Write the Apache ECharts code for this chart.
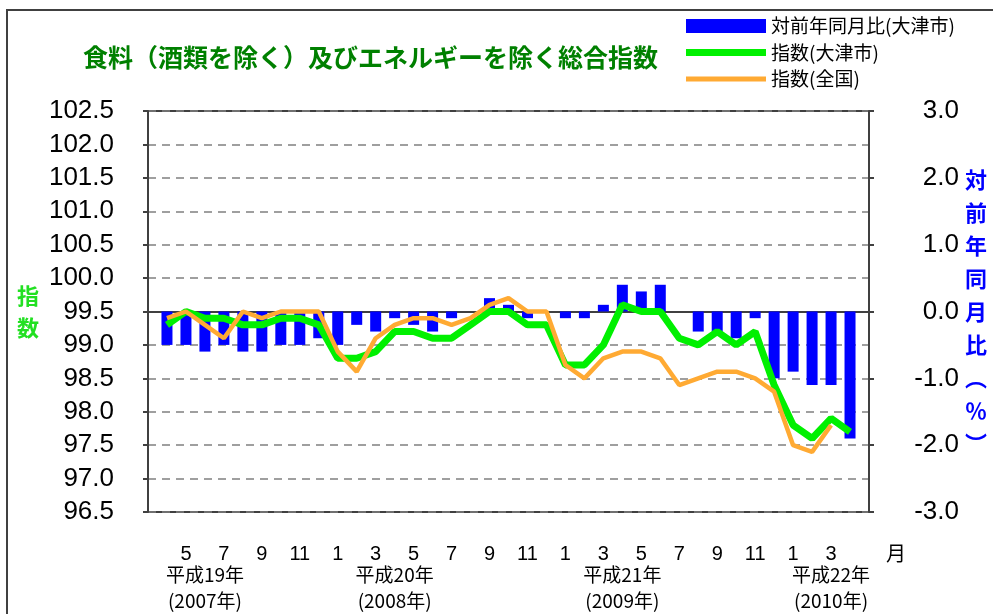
<!DOCTYPE html>
<html>
<head>
<meta charset="utf-8">
<script src="https://cdn.jsdelivr.net/npm/echarts@6/dist/echarts.min.js"></script>
<style>
  html, body { margin: 0; padding: 0; background: #fff; }
  #main { width: 993px; height: 614px; }
</style>
</head>
<body>
<div id="main"></div>
<script>
// 月 (平成19年4月 〜 平成22年4月)
const categories = [
  '2007-04', '2007-05', '2007-06', '2007-07', '2007-08', '2007-09', '2007-10', '2007-11', '2007-12',
  '2008-01', '2008-02', '2008-03', '2008-04', '2008-05', '2008-06', '2008-07', '2008-08', '2008-09', '2008-10', '2008-11', '2008-12',
  '2009-01', '2009-02', '2009-03', '2009-04', '2009-05', '2009-06', '2009-07', '2009-08', '2009-09', '2009-10', '2009-11', '2009-12',
  '2010-01', '2010-02', '2010-03', '2010-04'
]
// 対前年同月比(大津市) %
const yoyOtsu = [
  -0.5, -0.5, -0.6, -0.5, -0.6, -0.6, -0.5, -0.5, -0.4,
  -0.5, -0.2, -0.3, -0.1, -0.2, -0.3, -0.1, 0.0, 0.2, 0.1, -0.1, 0.0,
  -0.1, -0.1, 0.1, 0.4, 0.3, 0.4, 0.0, -0.3, -0.3, -0.4, -0.1, -1.0,
  -0.9, -1.1, -1.1, -1.9
]
// 指数(大津市)
const indexOtsu = [
  99.3, 99.5, 99.4, 99.4, 99.3, 99.3, 99.4, 99.4, 99.3,
  98.8, 98.8, 98.9, 99.2, 99.2, 99.1, 99.1, 99.3, 99.5, 99.5, 99.3, 99.3,
  98.7, 98.7, 99.0, 99.6, 99.5, 99.5, 99.1, 99.0, 99.2, 99.0, 99.2, 98.4,
  97.8, 97.6, 97.9, 97.7
]
// 指数(全国)
const indexAll = [
  99.4, 99.5, 99.3, 99.1, 99.5, 99.4, 99.5, 99.5, 99.5,
  98.9, 98.6, 99.1, 99.3, 99.4, 99.4, 99.3, 99.4, 99.6, 99.7, 99.5, 99.5,
  98.7, 98.5, 98.8, 98.9, 98.9, 98.8, 98.4, 98.5, 98.6, 98.6, 98.5, 98.3,
  97.5, 97.4, 97.8, null
]
// 年の表示位置と文字
const yearLabelMonths = ['2007-06', '2008-04', '2009-04', '2010-03']
const yearLabelTexts = ['平成19年\n(2007年)', '平成20年\n(2008年)', '平成21年\n(2009年)', '平成22年\n(2010年)']

const FONT = "'Liberation Sans', 'Noto Sans CJK JP', sans-serif"
const CJK = "'Noto Sans CJK JP', 'Liberation Sans', sans-serif"

// 両端に空きを1つずつ
const pad = (arr) => [null].concat(arr, [null])
const xData = [''].concat(categories, [''])

// 凡例の線アイコン (高さ14の枠の中に太さhの横線)
const lineIcon = (h) => {
  const y0 = (14 - h) / 2
  const y1 = y0 + h
  return `path://M0,0M0,14M0,${y0}L80,${y0}L80,${y1}L0,${y1}Z`
}

const myChart = echarts.init(document.getElementById('main'))

const option = {
  animation: false,
  textStyle: { fontFamily: FONT },
  title: {
    text: '食料（酒類を除く）及びエネルギーを除く総合指数',
    left: 78,
    top: 40,
    textStyle: { fontFamily: CJK, fontSize: 25, fontWeight: 'bold', color: '#008000' }
  },
  legend: {
    orient: 'vertical',
    left: 681,
    top: 11,
    itemWidth: 80,
    itemHeight: 14,
    itemGap: 6.5,
    symbolKeepAspect: false,
    textStyle: { fontFamily: CJK, fontSize: 19, lineHeight: 20, color: '#000' },
    data: [
      { name: '対前年同月比(大津市)', icon: 'rect' },
      { name: '指数(大津市)', icon: lineIcon(7) },
      { name: '指数(全国)', icon: lineIcon(5) }
    ]
  },
  grid: {
    left: 148,
    right: 124,
    top: 111,
    bottom: 101,
    show: true,
    borderColor: '#404040',
    borderWidth: 2
  },
  xAxis: [
    {
      type: 'category',
      data: xData,
      boundaryGap: false,
      axisLine: { show: true, lineStyle: { color: '#404040', width: 2 } },
      axisTick: { show: false },
      splitLine: { show: false },
      axisLabel: {
        margin: 32,
        fontSize: 20,
        color: '#000',
        interval: (i, v) => v !== '' && Number(v.slice(5)) % 2 === 1,
        formatter: (v) => v === '' ? '' : String(Number(v.slice(5)))
      }
    },
    {
      type: 'category',
      data: xData,
      boundaryGap: false,
      position: 'bottom',
      axisLine: { show: false },
      axisTick: { show: false },
      splitLine: { show: false },
      axisLabel: {
        margin: 50,
        fontSize: 19,
        lineHeight: 26,
        color: '#000',
        fontFamily: CJK,
        interval: (i, v) => yearLabelMonths.indexOf(v) >= 0,
        formatter: (v) => {
          const k = yearLabelMonths.indexOf(v)
          return k >= 0 ? yearLabelTexts[k] : ''
        }
      }
    }
  ],
  yAxis: [
    {
      type: 'value',
      min: 96.5,
      max: 102.5,
      interval: 0.5,
      axisLine: { show: true, lineStyle: { color: '#404040', width: 2 } },
      axisTick: { show: true, length: 5, lineStyle: { color: '#404040', width: 2 } },
      axisLabel: { fontSize: 26, color: '#000', margin: 34, formatter: (v) => v.toFixed(1) },
      splitLine: { show: true, lineStyle: { color: '#808080', width: 1.5, type: [8, 6] } },
      name: '指\n数',
      nameLocation: 'middle',
      nameRotate: 0,
      nameGap: 109,
      nameTextStyle: { fontFamily: CJK, fontSize: 22, fontWeight: 'bold', lineHeight: 32, color: '#22e022' }
    },
    {
      type: 'value',
      min: -3,
      max: 3,
      interval: 1,
      axisLine: { show: true, lineStyle: { color: '#404040', width: 2 } },
      axisTick: { show: true, length: 5, lineStyle: { color: '#404040', width: 2 } },
      axisLabel: { fontSize: 26, color: '#000', margin: 90, align: 'right', formatter: (v) => v.toFixed(1) },
      splitLine: { show: false },
      name: '対\n前\n年\n同\n月\n比\n︵\n％\n︶',
      nameLocation: 'middle',
      nameRotate: 0,
      nameGap: 89,
      nameTextStyle: { fontFamily: CJK, fontSize: 22, fontWeight: 'bold', lineHeight: 33, color: '#0000ff', padding: [40, 0, 0, 0] }
    }
  ],
  series: [
    {
      name: '対前年同月比(大津市)',
      type: 'bar',
      xAxisIndex: 0,
      yAxisIndex: 1,
      barWidth: 11,
      itemStyle: { color: '#0000ff' },
      data: pad(yoyOtsu)
    },
    {
      name: '指数(大津市)',
      type: 'line',
      xAxisIndex: 0,
      yAxisIndex: 0,
      symbol: 'none',
      lineStyle: { color: '#00f000', width: 7 },
      itemStyle: { color: '#00f000' },
      data: pad(indexOtsu)
    },
    {
      name: '指数(全国)',
      type: 'line',
      xAxisIndex: 0,
      yAxisIndex: 0,
      symbol: 'none',
      lineStyle: { color: '#ffaa33', width: 4.5 },
      itemStyle: { color: '#ffaa33' },
      data: pad(indexAll)
    }
  ],
  graphic: [
    // 外枠
    {
      type: 'rect',
      silent: true,
      shape: { x: 7, y: 10, width: 1100, height: 700 },
      style: { fill: 'none', stroke: '#404040', lineWidth: 2 }
    },
    // 横軸の単位
    {
      type: 'text',
      silent: true,
      left: 886,
      top: 543,
      style: { text: '月', fontFamily: CJK, fontSize: 20, fill: '#000' }
    }
  ]
}

myChart.setOption(option)
</script>
</body>
</html>
